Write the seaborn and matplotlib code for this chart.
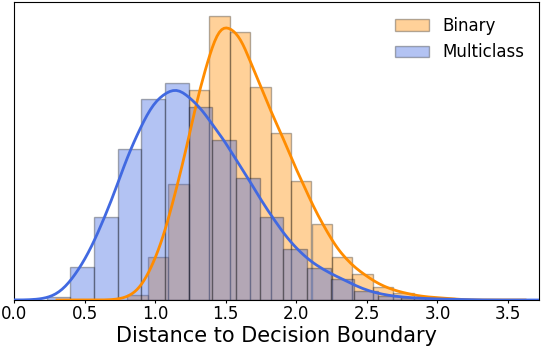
import numpy as np
import matplotlib
matplotlib.use('Agg')
import matplotlib.pyplot as plt
import seaborn as sns

# -------------------------------------------------------------
# DATA (bin edges and bar heights)
# -------------------------------------------------------------
binary_edges = [0.803, 0.948, 1.093, 1.238, 1.383, 1.528, 1.673, 1.818, 1.963,
                2.108, 2.253, 2.398, 2.543, 2.688, 2.833, 2.978, 3.123]
binary_counts = [5, 43, 116, 210, 284, 268, 213, 167, 119,
                 76, 43, 26, 13, 7, 3, 2]

multi_edges = [0.233, 0.400, 0.568, 0.735, 0.903, 1.070, 1.238, 1.405, 1.573,
               1.740, 1.908, 2.075, 2.243, 2.410, 2.578, 2.745, 2.913, 3.080, 3.248]
multi_counts = [3, 33, 83, 151, 201, 217, 193, 160, 122,
                83, 51, 32, 21, 9, 4, 2, 1, 0.5]

xticks = [0.0, 0.5, 1.0, 1.5, 2.0, 2.5, 3.0, 3.5]

plt.rcParams['font.family'] = 'DejaVu Sans'

fig = plt.figure(figsize=(5.42, 3.48), dpi=100)
ax = fig.add_axes([14 / 542, 48 / 348, 525 / 542, 298 / 348])

b_edges = np.array(binary_edges)
m_edges = np.array(multi_edges)

sns.histplot(x=(b_edges[:-1] + b_edges[1:]) / 2, weights=binary_counts, bins=binary_edges,
             kde=True, color='darkorange', alpha=0.4, edgecolor=(0, 0, 0, 0.3),
             linewidth=1, kde_kws=dict(bw_adjust=0.36, cut=4),
             line_kws=dict(linewidth=2, zorder=3), label='Binary', ax=ax)
sns.histplot(x=(m_edges[:-1] + m_edges[1:]) / 2, weights=multi_counts, bins=multi_edges,
             kde=True, color='royalblue', alpha=0.4, edgecolor=(0, 0, 0, 0.3),
             linewidth=1, kde_kws=dict(bw_adjust=0.35, cut=5),
             line_kws=dict(linewidth=2, zorder=4), label='Multiclass', ax=ax)

ax.set_xlim(0, 3.72)
ax.set_xticks(xticks)
ax.set_xticklabels([f'{t:.1f}' for t in xticks], fontsize=12)
ax.tick_params(axis='x', length=2, pad=1.5)
ax.set_yticks([])
ax.set_ylabel('')
ax.set_xlabel('Distance to Decision Boundary', fontsize=15, labelpad=2)
ax.legend(frameon=False, fontsize=12, loc='upper right')

fig.savefig('out.png', dpi=100)
